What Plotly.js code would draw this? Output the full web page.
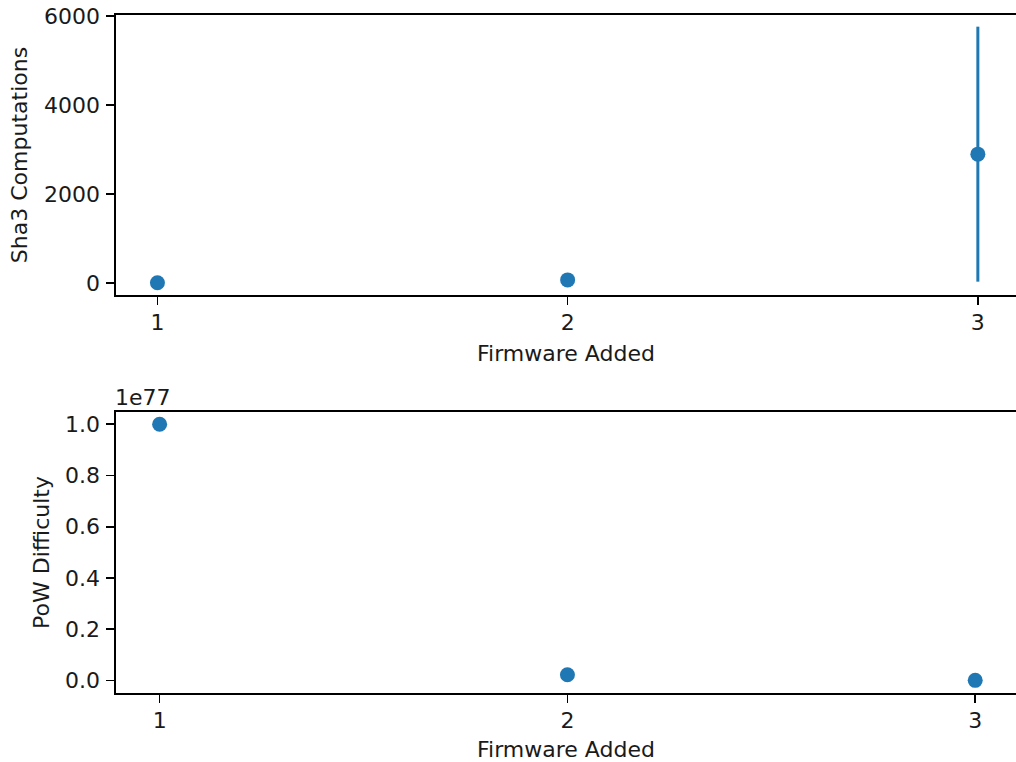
<!DOCTYPE html>
<html>
<head>
<meta charset="utf-8">
<script src="https://cdn.plot.ly/plotly-3.0.1.min.js"></script>
<style>html,body{margin:0;padding:0;background:#fff;overflow:hidden;}#chart{width:1016px;height:762px;}</style>
</head>
<body>
<div id="chart"></div>
<script>
// Data
const firmware = [1, 2, 3];
const sha3Mean = [5, 70, 2895];
const sha3Err = [0, 0, 2865];
const powDifficulty = [1.0e77, 0.022e77, 0.0003e77];
const xTicks = [1, 2, 3];
const sha3Ticks = [0, 2000, 4000, 6000];
const powTickScaled = [0.0, 0.2, 0.4, 0.6, 0.8, 1.0];
const powTickLabels = ['0.0', '0.2', '0.4', '0.6', '0.8', '1.0'];
const powExponentLabel = '1e77';

const blue = '#1f77b4';
const font = {family: 'DejaVu Sans', size: 22, color: '#1a1a1a'};

const traces = [
  {
    x: firmware, y: sha3Mean, type: 'scatter', mode: 'markers',
    marker: {color: blue, size: 15},
    error_y: {type: 'data', array: sha3Err, visible: true, color: blue, thickness: 3, width: 0},
    xaxis: 'x', yaxis: 'y', hoverinfo: 'x+y'
  },
  {
    x: firmware, y: powDifficulty, type: 'scatter', mode: 'markers',
    marker: {color: blue, size: 15},
    xaxis: 'x2', yaxis: 'y2', hoverinfo: 'x+y'
  }
];

const axisCommon = {
  showgrid: false, zeroline: false, showline: true, linecolor: '#000', linewidth: 1.7,
  ticks: 'outside', ticklen: 8, tickwidth: 1.7, tickcolor: '#000', tickfont: font
};
const xCommon = Object.assign({}, axisCommon, {ticklabelstandoff: -1, mirror: true, domain: [0, 1]});
const yCommon = Object.assign({}, axisCommon, {ticklabelstandoff: 2});

const layout = {
  width: 1016, height: 762,
  margin: {l: 116, r: 0, t: 15, b: 69},
  paper_bgcolor: '#fff', plot_bgcolor: '#fff',
  showlegend: false, font: font,
  xaxis: Object.assign({}, xCommon, {
    range: [0.899, 3.093], anchor: 'y',
    tickvals: xTicks, ticktext: xTicks.map(String),
    title: {text: 'Firmware Added', font: font, standoff: 11}
  }),
  yaxis: Object.assign({}, yCommon, {
    domain: [0.587, 1], range: [-270, 6022], anchor: 'x',
    tickvals: sha3Ticks, ticktext: sha3Ticks.map(String),
    title: {text: 'Sha3 Computations', font: font, standoff: 10}
  }),
  xaxis2: Object.assign({}, xCommon, {
    range: [0.893, 3.10], anchor: 'y2',
    tickvals: xTicks, ticktext: xTicks.map(String),
    title: {text: 'Firmware Added', font: font, standoff: 11}
  }),
  yaxis2: Object.assign({}, yCommon, {
    domain: [0, 0.4145], range: [-0.049e77, 1.048e77], anchor: 'x2',
    tickvals: powTickScaled.map(v => v * 1e77), ticktext: powTickLabels,
    title: {text: 'PoW Difficulty', font: font, standoff: 9}
  }),
  annotations: [
    {text: powExponentLabel, xref: 'x2 domain', yref: 'y2 domain', x: 0, y: 1,
     xanchor: 'left', yanchor: 'bottom', yshift: 0, xshift: -3, showarrow: false, font: font}
  ]
};

Plotly.newPlot('chart', traces, layout, {staticPlot: true, displayModeBar: false});
</script>
</body>
</html>
